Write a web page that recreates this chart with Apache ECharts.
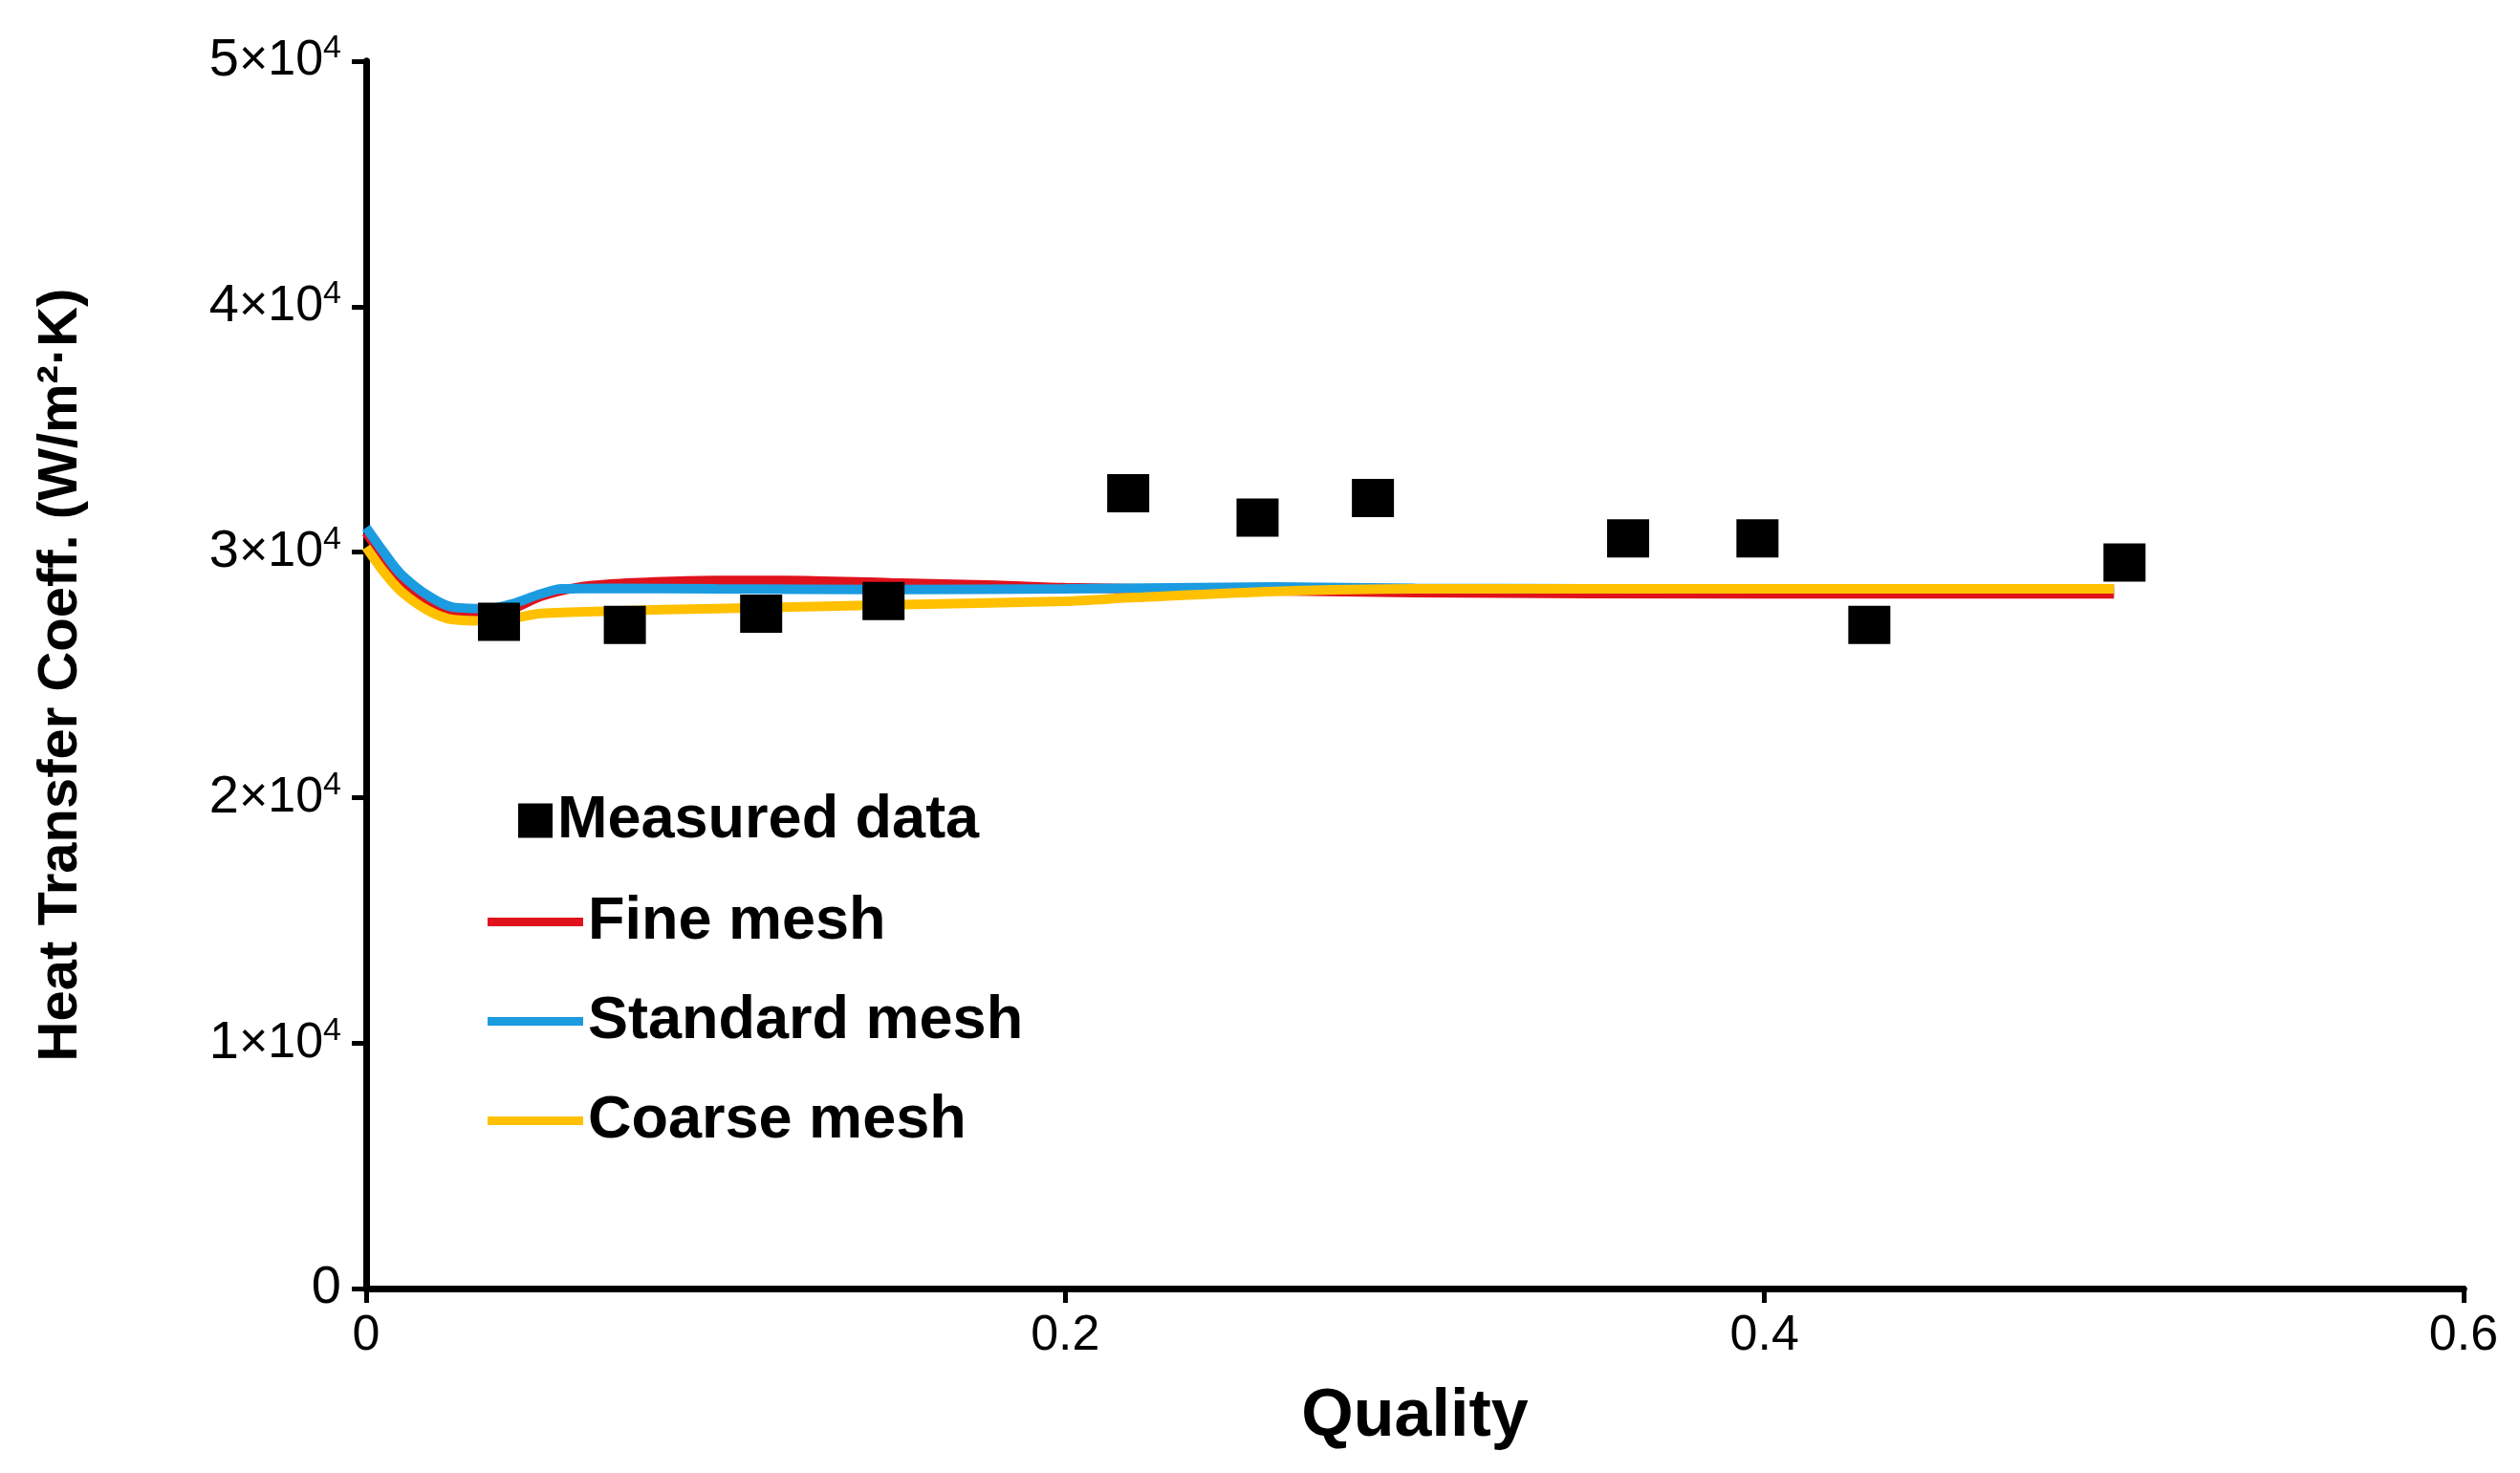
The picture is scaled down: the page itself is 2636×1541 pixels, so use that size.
<!DOCTYPE html>
<html>
<head>
<meta charset="utf-8">
<script src="https://cdn.jsdelivr.net/npm/echarts@6/dist/echarts.min.js"></script>
<style>html,body{margin:0;padding:0;background:#fff}#chart{width:2636px;height:1541px}</style>
</head>
<body>
<div id="chart"></div>
<script>
// measured points
var measuredX = [0.038, 0.074, 0.113, 0.148, 0.218, 0.255, 0.288, 0.361, 0.398, 0.430, 0.503];
var measuredY = [27160, 27030, 27490, 28010, 32400, 31410, 32200, 30560, 30560, 27030, 29580];
// simulation curves
var fineX = [0, 0.005, 0.01, 0.018, 0.025, 0.035, 0.042, 0.05, 0.06, 0.07, 0.085, 0.1, 0.12, 0.15, 0.18, 0.2, 0.25, 0.3, 0.4, 0.5];
var fineY = [30800, 29800, 28900, 28000, 27550, 27500, 27700, 28200, 28550, 28700, 28800, 28850, 28850, 28750, 28650, 28550, 28450, 28350, 28300, 28300];
var stdX = [0, 0.005, 0.01, 0.018, 0.025, 0.035, 0.042, 0.05, 0.056, 0.07, 0.1, 0.15, 0.2, 0.26, 0.3, 0.4, 0.5];
var stdY = [31000, 30000, 29100, 28200, 27750, 27700, 27900, 28300, 28500, 28520, 28500, 28480, 28500, 28580, 28520, 28500, 28500];
var coarseX = [0, 0.005, 0.01, 0.018, 0.025, 0.035, 0.042, 0.05, 0.07, 0.1, 0.15, 0.2, 0.22, 0.26, 0.3, 0.4, 0.5];
var coarseY = [30200, 29200, 28400, 27600, 27250, 27200, 27300, 27500, 27600, 27700, 27850, 28000, 28150, 28400, 28500, 28500, 28500];
var yTicks = [0, 10000, 20000, 30000, 40000, 50000];

function pairs(xs, ys) { return xs.map(function (x, i) { return [x, ys[i]]; }); }

var chart = echarts.init(document.getElementById('chart'));
var font = 'Liberation Sans, Arial, sans-serif';
var legendText = { fontFamily: font, fontWeight: 'bold', fontSize: 63, color: '#000' };
function lineLegend(name, top) {
  return { left: 505, top: top, itemWidth: 100, itemHeight: 9, itemGap: 0, itemTextGap: 8,
    icon: 'rect', textStyle: legendText, data: [name], selectedMode: false };
}
var boxLine = { show: true, lineStyle: { color: '#000', width: 7 } };
var option = {
  animation: false,
  grid: { left: 383, right: 59, top: 64, bottom: 193 },
  legend: [
    { left: 537, top: 822, itemWidth: 36, itemHeight: 36, itemTextGap: 72, icon: 'rect',
      textStyle: legendText, data: ['Measured data'], selectedMode: false },
    lineLegend('Fine mesh', 928),
    lineLegend('Standard mesh', 1032),
    lineLegend('Coarse mesh', 1136)
  ],
  xAxis: [{
    type: 'value', min: 0, max: 0.6, interval: 0.2,
    name: 'Quality', nameLocation: 'middle', nameGap: 100,
    nameTextStyle: { fontFamily: font, fontWeight: 'bold', fontSize: 70, color: '#000' },
    axisLine: boxLine,
    axisTick: { show: true, length: 15, lineStyle: { color: '#000', width: 5 } },
    axisLabel: { fontFamily: font, fontSize: 52, color: '#000', margin: 24,
      formatter: function (v) { return v === 0 ? '0' : String(Math.round(v * 10) / 10); } },
    splitLine: { show: false }
  }, {
    type: 'value', position: 'top', min: 0, max: 0.6, interval: 0.2,
    axisLine: boxLine, axisTick: { show: false }, axisLabel: { show: false }, splitLine: { show: false }
  }],
  yAxis: [{
    type: 'value', min: 0, max: 50000, interval: 10000,
    name: 'Heat Transfer Coeff. (W/m\u00b2\u00b7K)', nameLocation: 'middle', nameGap: 290,
    nameTextStyle: { fontFamily: font, fontWeight: 'bold', fontSize: 58, color: '#000' },
    axisLine: boxLine,
    axisTick: { show: true, length: 15, lineStyle: { color: '#000', width: 5 } },
    axisLabel: { margin: 26,
      formatter: function (v) {
        if (yTicks.indexOf(v) < 0) return '';
        return v === 0 ? '{a|0}' : '{a|' + (v / 10000) + '}{b|\u00d710}{c|4}';
      },
      rich: {
        a: { fontFamily: font, fontSize: 56, color: '#000' },
        b: { fontFamily: font, fontSize: 52, color: '#000' },
        c: { fontFamily: font, fontSize: 34, color: '#000', verticalAlign: 'top', padding: [0, 0, 26, 0] }
      } },
    splitLine: { show: false }
  }, {
    type: 'value', position: 'right', min: 0, max: 50000, interval: 10000,
    axisLine: boxLine, axisTick: { show: false }, axisLabel: { show: false }, splitLine: { show: false }
  }],
  series: [
    { name: 'Fine mesh', type: 'line', data: pairs(fineX, fineY), symbol: 'none', smooth: 0.3,
      lineStyle: { color: '#e0121c', width: 10 }, itemStyle: { color: '#e0121c' }, z: 2 },
    { name: 'Standard mesh', type: 'line', data: pairs(stdX, stdY), symbol: 'none', smooth: 0.3,
      lineStyle: { color: '#1b9be0', width: 10 }, itemStyle: { color: '#1b9be0' }, z: 3 },
    { name: 'Coarse mesh', type: 'line', data: pairs(coarseX, coarseY), symbol: 'none', smooth: 0.3,
      lineStyle: { color: '#ffc000', width: 10 }, itemStyle: { color: '#ffc000' }, z: 4 },
    { name: 'Measured data', type: 'scatter', data: pairs(measuredX, measuredY), symbol: 'rect',
      symbolSize: [44, 40], itemStyle: { color: '#000', opacity: 1 }, z: 5 }
  ]
};
chart.setOption(option);
</script>
</body>
</html>
